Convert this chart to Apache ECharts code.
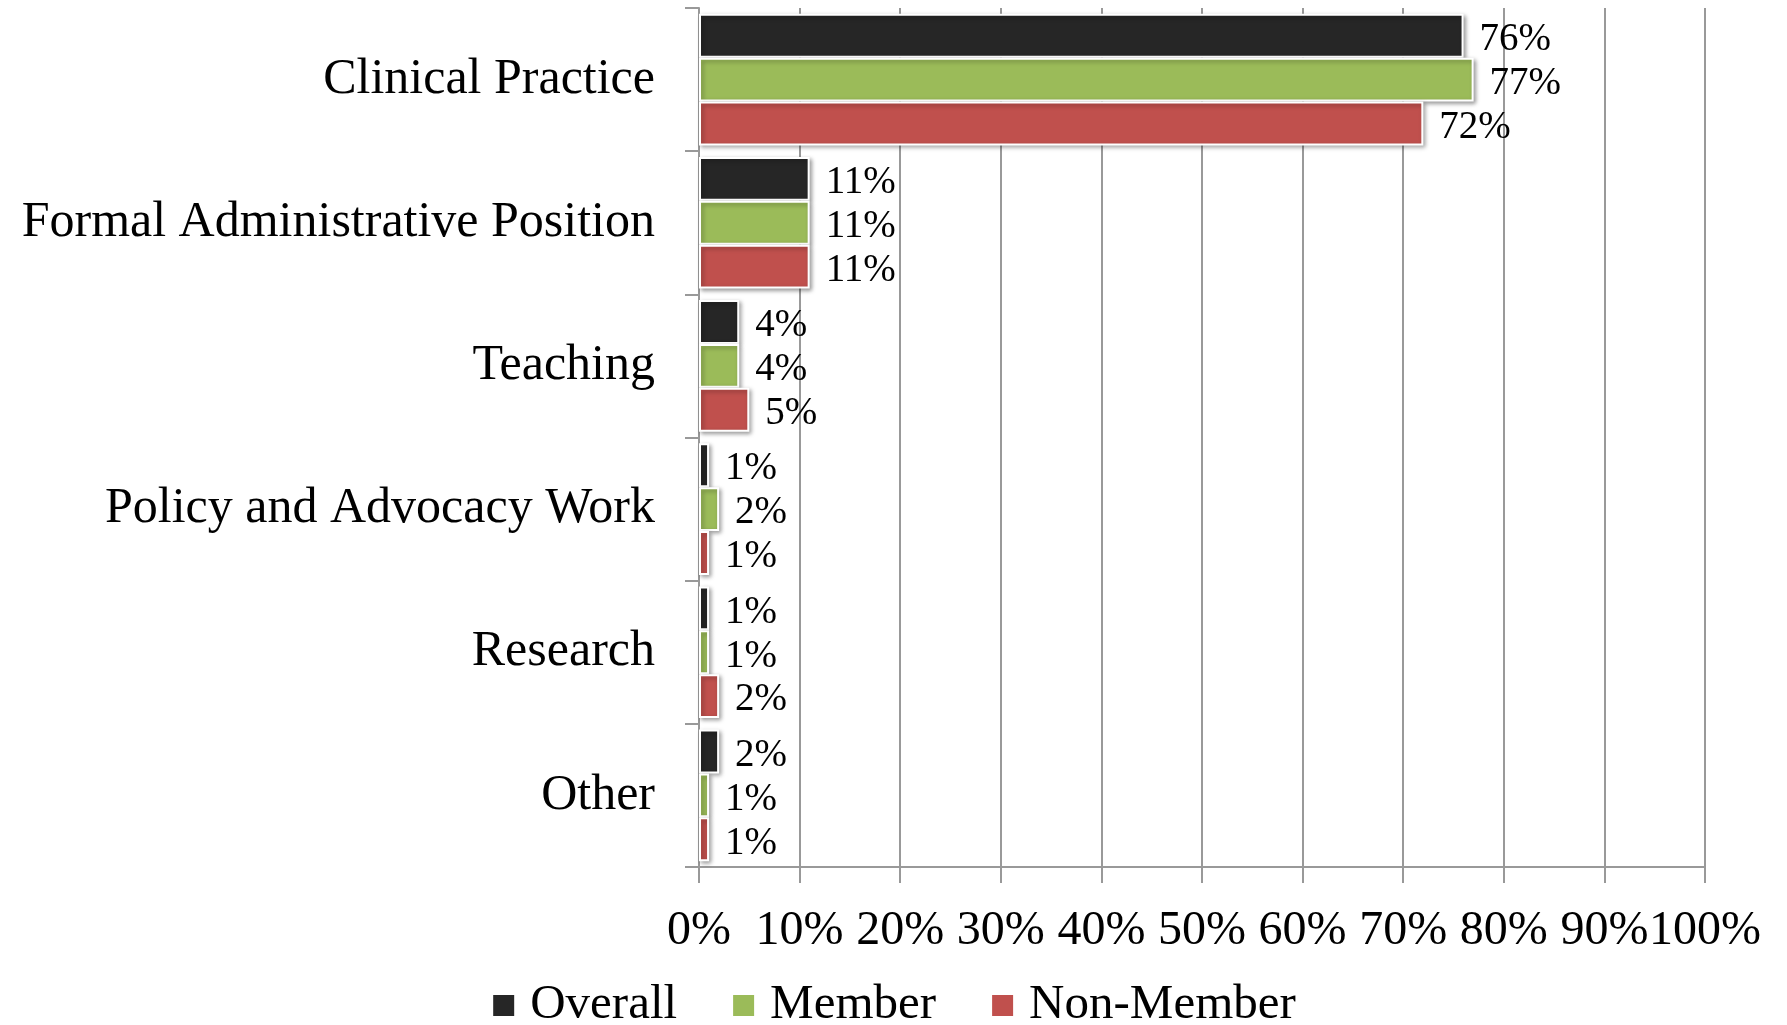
<!DOCTYPE html>
<html>
<head>
<meta charset="utf-8">
<script src="https://cdn.jsdelivr.net/npm/echarts@6/dist/echarts.min.js"></script>
<style>
  html, body { margin: 0; padding: 0; background: #fff; }
  #chart { width: 1787px; height: 1025px; }
</style>
</head>
<body>
<div id="chart"></div>
<script>
const categories = ['Clinical Practice', 'Formal Administrative Position', 'Teaching', 'Policy and Advocacy Work', 'Research', 'Other']
const overall = [76, 11, 4, 1, 1, 2]
const member = [77, 11, 4, 2, 1, 1]
const nonMember = [72, 11, 5, 1, 2, 1]
const xTicks = [0, 10, 20, 30, 40, 50, 60, 70, 80, 90, 100]

const font = '"Liberation Serif", "DejaVu Serif", serif'
const gray = '#999'

const myChart = echarts.init(document.getElementById('chart'))

const barSeries = (name, data, color) => ({
    name: name,
    type: 'bar',
    data: data,
    barGap: '0%',
    barCategoryGap: '8%',
    itemStyle: {
        color: color,
        borderColor: '#fff',
        borderWidth: 2,
        shadowColor: 'rgba(0,0,0,0.35)',
        shadowBlur: 4,
        shadowOffsetX: 2,
        shadowOffsetY: 2
    },
    label: {
        show: true,
        position: 'right',
        distance: 16,
        offset: [0, 4],
        formatter: '{c}%',
        fontFamily: font,
        fontSize: 39,
        color: '#000'
    }
})

const option = {
    animation: false,
    backgroundColor: '#fff',
    grid: { left: 699, right: 82, top: 8, bottom: 158 },
    legend: {
        bottom: -10,
        left: 'center',
        itemWidth: 23,
        itemHeight: 23,
        itemGap: 54,
        icon: 'rect',
        textStyle: { fontFamily: font, fontSize: 49, color: '#000', padding: [0, 0, 0, 10] },
        data: ['Overall', 'Member', 'Non-Member']
    },
    xAxis: {
        type: 'value',
        min: 0,
        max: 100,
        interval: 10,
        axisLine: { show: true, lineStyle: { color: gray, width: 2 } },
        axisTick: { show: true, length: 16, lineStyle: { color: gray, width: 2 } },
        splitLine: { show: true, lineStyle: { color: gray, width: 2 } },
        axisLabel: {
            margin: 40,
            fontFamily: font,
            fontSize: 48,
            color: '#000',
            showMinLabel: true,
            showMaxLabel: true,
            hideOverlap: false,
            formatter: v => xTicks.includes(v) ? v + '%' : ''
        }
    },
    yAxis: {
        type: 'category',
        inverse: true,
        data: categories,
        axisLine: { show: true, lineStyle: { color: gray, width: 2 } },
        axisTick: { show: true, length: 14, lineStyle: { color: gray, width: 2 } },
        axisLabel: {
            margin: 44,
            fontFamily: font,
            fontSize: 50,
            color: '#000'
        }
    },
    series: [
        barSeries('Overall', overall, '#262626'),
        barSeries('Member', member, '#9bbb59'),
        barSeries('Non-Member', nonMember, '#c0504d')
    ]
}

myChart.setOption(option)
</script>
</body>
</html>
